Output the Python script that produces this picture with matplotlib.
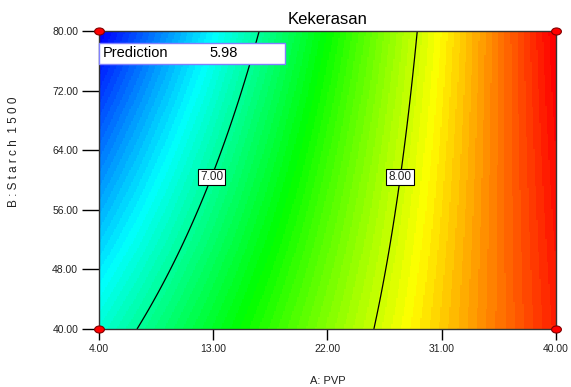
import numpy as np
import matplotlib
matplotlib.use("Agg")
import matplotlib.pyplot as plt
from matplotlib.colors import LinearSegmentedColormap
from matplotlib.path import Path

plt.rcParams['font.family'] = ['Liberation Sans', 'DejaVu Sans']

# fitted response surface for Kekerasan (actual factor units)
# Y = b0 + bA*A + bB*B + bAB*A*B
b0 = 7.585
bA = 0.02688
bB = -0.024
bAB = 0.000668

a_range = [4.0, 40.0]
b_range = [40.0, 80.0]
x_ticks = [4.0, 13.0, 22.0, 31.0, 40.0]
y_ticks = [40.0, 48.0, 56.0, 64.0, 72.0, 80.0]
levels = [7.0, 8.0]
label_b = 60.4

design_a = [4.0, 40.0, 4.0, 40.0]
design_b = [40.0, 40.0, 80.0, 80.0]
prediction_text = "5.98"


def model(a, b):
    return b0 + bA * a + bB * b + bAB * a * b


A, B = np.meshgrid(np.linspace(*a_range, 300), np.linspace(*b_range, 300))
Y = model(A, B)

cmap = LinearSegmentedColormap.from_list(
    "de", ["#0000ff", "#00ffff", "#00ff00", "#ffff00", "#ff0000"], N=72)

fig = plt.figure(figsize=(5.71, 3.87), dpi=100)
ax = fig.add_axes([99 / 571, 58 / 387, 457 / 571, 298 / 387])

ax.imshow(Y, origin="lower", extent=[*a_range, *b_range], aspect="auto",
          cmap=cmap, vmin=Y.min(), vmax=Y.max(), interpolation="nearest")
ax.contour(A, B, Y, levels=levels, colors="black", linewidths=0.9)

for lev in levels:
    a_lab = (lev - b0 - bB * label_b) / (bA + bAB * label_b)
    ax.text(a_lab, label_b, f"{lev:.2f}", ha="center", va="center", fontsize=8.5,
            color="#222222",
            bbox=dict(boxstyle="square,pad=0.2", fc="white", ec="black", lw=0.8))

# design points drawn as flat ellipses
circ = Path.unit_circle()
ellipse = Path(circ.vertices * np.array([1.0, 0.72]), circ.codes)
ax.scatter(design_a, design_b, s=50, marker=ellipse, c="red", edgecolors="#800000",
           linewidths=0.8, clip_on=False, zorder=5)

ax.set_xlim(*a_range)
ax.set_ylim(*b_range)
ax.set_xticks(x_ticks)
ax.set_yticks(y_ticks)
ax.set_xticklabels([f"{v:.2f}" for v in x_ticks])
ax.set_yticklabels([f"{v:.2f}" for v in y_ticks])
ax.tick_params(axis="x", length=8, width=1, labelsize=7.5, pad=3, labelcolor="#222222")
ax.tick_params(axis="y", length=12, width=1, labelsize=7.5, pad=3, labelcolor="#222222")
for s in ax.spines.values():
    s.set_linewidth(1)
    s.set_color("#333333")

ax.set_title("Kekerasan", fontsize=12, pad=5)
fig.text(328 / 571, 1 - 386 / 387, "A: PVP", ha="center", va="bottom", fontsize=8,
         color="#222222")
fig.text(14 / 571, 1 - 152 / 387, "B : S t a r c h  1 5 0 0", rotation=90,
         ha="center", va="center", fontsize=8.5, color="#222222")

# prediction flag box
ax.text(4 / 457, 0.925, "Prediction", transform=ax.transAxes, fontsize=10.5,
        va="center", ha="left", zorder=7)
ax.text(110 / 457, 0.925, prediction_text, transform=ax.transAxes, fontsize=10.5,
        va="center", ha="left", zorder=7)
ax.add_patch(plt.Rectangle((0.0, 0.889), 186 / 457, 0.071, transform=ax.transAxes,
                           fc="white", ec="#8080ff", lw=1, zorder=6, clip_on=False))

fig.savefig("out.png", dpi=100)
